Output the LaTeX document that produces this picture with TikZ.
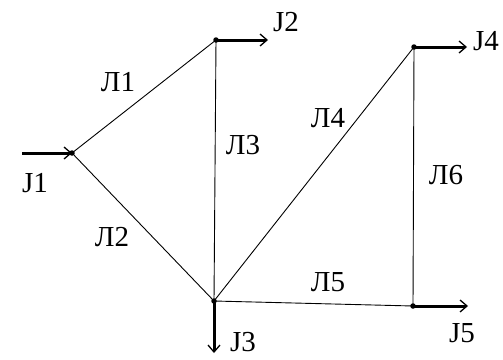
\documentclass[tikz,border=0pt]{standalone}
\usepackage{fontspec}
\setmainfont{Liberation Serif}
\usetikzlibrary{arrows.meta, positioning, calc}
\tikzset{
  jn/.style={circle, fill=black, inner sep=0pt, minimum size=5.5pt},
  lbl/.style={font=\fontsize{29}{34}\selectfont, inner sep=0pt},
  edge/.style={line width=0.9pt},
  arr/.style={line width=3pt, -{Straight Barb[length=7pt, width=12pt, line width=1.3pt]}},
}

\begin{document}
\begin{tikzpicture}[x=1pt, y=-1pt]
    \useasboundingbox (0,0) rectangle (503,359);
    % junctions
    \node[jn] (j1) at (72,153) {};
    \node[jn] (j2) at (216,40) {};
    \node[jn] (j3) at (214,301) {};
    \node[jn] (j4) at (414,47) {};
    \node[jn] (j5) at (413,306) {};
    % free ends of the flows
    \coordinate (in1) at (22,153);
    \coordinate (out2) at (268,40);
    \coordinate (out3) at (214,353);
    \coordinate (out4) at (467,47);
    \coordinate (out5) at (468,306);
    % lines
    \draw[edge] (j1.center) -- (j2.center);
    \draw[edge] (j1.center) -- (j3.center);
    \draw[edge] (j2.center) -- (j3.center);
    \draw[edge] (j3.center) -- (j4.center);
    \draw[edge] (j3.center) -- (j5.center);
    \draw[edge] (j4.center) -- (j5.center);
    % flows
    \draw[arr] (in1) -- (j1.center);
    \draw[arr] (j2.center) -- (out2);
    \draw[arr] (j3.center) -- (out3);
    \draw[arr] (j4.center) -- (out4);
    \draw[arr] (j5.center) -- (out5);
    % labels
    \node[lbl] (tj1) at (35,183) {J1};
    \node[lbl] (tj2) at (286,22) {J2};
    \node[lbl] (tj3) at (243,342) {J3};
    \node[lbl] (tj4) at (486,41) {J4};
    \node[lbl] (tj5) at (462,333) {J5};
    \node[lbl] (tl1) at (118,82) {Л1};
    \node[lbl] (tl2) at (112,237) {Л2};
    \node[lbl] (tl3) at (243,145) {Л3};
    \node[lbl] (tl4) at (328,118) {Л4};
    \node[lbl] (tl5) at (328,282) {Л5};
    \node[lbl] (tl6) at (446,175) {Л6};
\end{tikzpicture}
\end{document}
